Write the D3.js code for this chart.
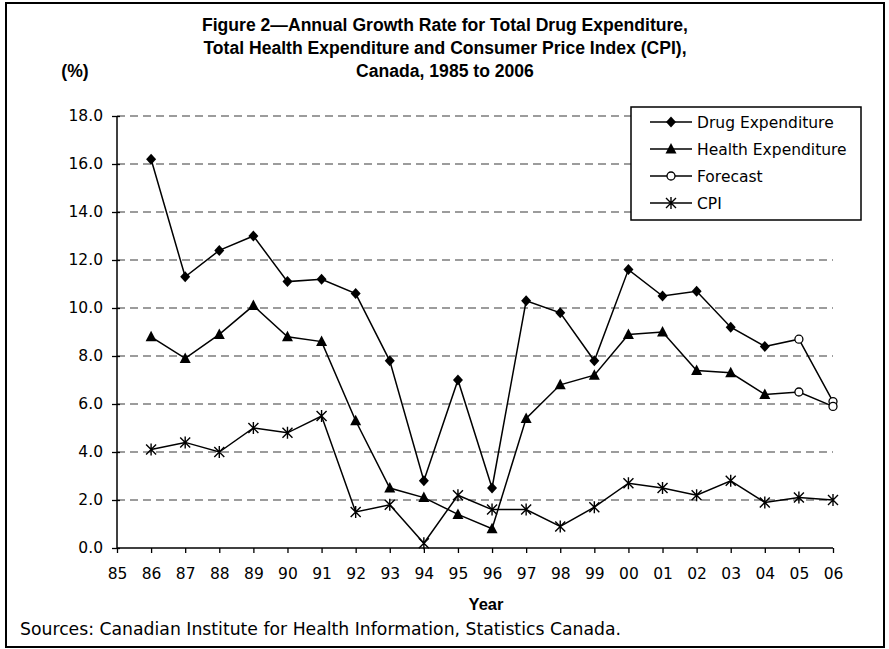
<!DOCTYPE html>
<html>
<head>
<meta charset="utf-8">
<script src="https://cdnjs.cloudflare.com/ajax/libs/d3/7.8.5/d3.min.js"></script>
<style>
  html, body { margin: 0; padding: 0; background: #fff; }
  svg { display: block; }
</style>
</head>
<body>
<svg id="chart" width="889" height="649"></svg>
<script>
// ---------------- data ----------------
const years = ["85","86","87","88","89","90","91","92","93","94","95","96","97","98","99","00","01","02","03","04","05","06"];
const actualYears = ["86","87","88","89","90","91","92","93","94","95","96","97","98","99","00","01","02","03","04"];
const drugValues = [16.2, 11.3, 12.4, 13.0, 11.1, 11.2, 10.6, 7.8, 2.8, 7.0, 2.5, 10.3, 9.8, 7.8, 11.6, 10.5, 10.7, 9.2, 8.4];
const healthValues = [8.8, 7.9, 8.9, 10.1, 8.8, 8.6, 5.3, 2.5, 2.1, 1.4, 0.8, 5.4, 6.8, 7.2, 8.9, 9.0, 7.4, 7.3, 6.4];
const forecastYears = ["04","05","06"];
const forecastDrug = [8.4, 8.7, 6.1];
const forecastHealth = [6.4, 6.5, 5.9];
const cpiYears = ["86","87","88","89","90","91","92","93","94","95","96","97","98","99","00","01","02","03","04","05","06"];
const cpiValues = [4.1, 4.4, 4.0, 5.0, 4.8, 5.5, 1.5, 1.8, 0.2, 2.2, 1.6, 1.6, 0.9, 1.7, 2.7, 2.5, 2.2, 2.8, 1.9, 2.1, 2.0];
const yTicks = [0, 2, 4, 6, 8, 10, 12, 14, 16, 18];
const titleLines = [
  "Figure 2\u2014Annual Growth Rate for Total Drug Expenditure,",
  "Total Health Expenditure and Consumer Price Index (CPI),",
  "Canada, 1985 to 2006"
];
const legendLabels = ["Drug Expenditure", "Health Expenditure", "Forecast", "CPI"];
const yAxisLabel = "(%)";
const xAxisLabel = "Year";
const sourceText = "Sources: Canadian Institute for Health Information, Statistics Canada.";

// ---------------- layout ----------------
const svg = d3.select("#chart");
const FONT = "'DejaVu Sans', Verdana, sans-serif";
const BOLD = "'Liberation Sans', Arial, sans-serif";
const x = d3.scalePoint().domain(years).range([117, 833]);
const y = d3.scaleLinear().domain([0, 18]).range([548, 116]);

// outer border
svg.append("rect").attr("x", 6).attr("y", 3).attr("width", 878).attr("height", 644)
  .attr("fill", "none").attr("stroke", "#000").attr("stroke-width", 2);

// title
const titleG = svg.append("g");
const titleBase = [31, 54, 77];
const tnodes = titleLines.map((t, i) =>
  titleG.append("text").attr("x", 445).attr("y", titleBase[i]).attr("text-anchor", "middle")
    .attr("font-family", BOLD).attr("font-weight", "bold").attr("font-size", 17.5).text(t));
const nat0 = tnodes[0].node().getComputedTextLength();
const scaleF = 486 / nat0;
tnodes.forEach(n => {
  const w = n.node().getComputedTextLength();
  n.attr("textLength", w * scaleF).attr("lengthAdjust", "spacingAndGlyphs");
});

// y label
const yl = svg.append("text").attr("x", 75).attr("y", 77).attr("text-anchor", "middle")
  .attr("font-family", BOLD).attr("font-weight", "bold").attr("font-size", 17.5).text(yAxisLabel);
yl.attr("textLength", yl.node().getComputedTextLength() * scaleF).attr("lengthAdjust", "spacingAndGlyphs");

// gridlines
svg.append("g").selectAll("line").data(yTicks.filter(d => d > 0)).join("line")
  .attr("x1", 117).attr("x2", 833).attr("y1", d => y(d)).attr("y2", d => y(d))
  .attr("stroke", "#3a3a3a").attr("stroke-width", 1.2).attr("stroke-dasharray", "8,5");

// y axis
const yAxis = svg.append("g").attr("transform", "translate(117,0)")
  .call(d3.axisLeft(y).tickValues(yTicks).tickFormat(d => d.toFixed(1)).tickSize(5).tickPadding(9));
yAxis.select(".domain").attr("stroke", "#000").attr("stroke-width", 1.5).attr("d", "M0,116V548");
yAxis.selectAll(".tick line").attr("x1", 3).attr("x2", -5).attr("stroke", "#000").attr("stroke-width", 1.3);
yAxis.selectAll(".tick text").attr("font-family", FONT).attr("font-size", 15.5).attr("fill", "#000");

// x axis
const xAxis = svg.append("g").attr("transform", "translate(0,548)")
  .call(d3.axisBottom(x).tickSize(5).tickPadding(15));
xAxis.select(".domain").attr("stroke", "#000").attr("stroke-width", 1.5).attr("d", "M117,0H833");
xAxis.selectAll(".tick line").attr("stroke", "#000").attr("stroke-width", 1.3);
xAxis.selectAll(".tick text").attr("font-family", FONT).attr("font-size", 15.5).attr("fill", "#000");

// axis title & source
svg.append("text").attr("x", 486).attr("y", 610).attr("text-anchor", "middle")
  .attr("font-family", BOLD).attr("font-weight", "bold").attr("font-size", 16.5).text(xAxisLabel);
const src = svg.append("text").attr("x", 20).attr("y", 635)
  .attr("font-family", FONT).attr("font-size", 17).text(sourceText);
src.attr("textLength", 601).attr("lengthAdjust", "spacingAndGlyphs");

// markers
function diamond(g, cx, cy) {
  g.append("path").attr("d", `M${cx},${cy-5.5}L${cx+5},${cy}L${cx},${cy+5.5}L${cx-5},${cy}Z`).attr("fill", "#000");
}
function triangle(g, cx, cy) {
  g.append("path").attr("d", `M${cx},${cy-6}L${cx+5.5},${cy+4.5}L${cx-5.5},${cy+4.5}Z`).attr("fill", "#000");
}
function circle(g, cx, cy) {
  g.append("circle").attr("cx", cx).attr("cy", cy).attr("r", 4).attr("fill", "#fff").attr("stroke", "#000").attr("stroke-width", 1.3);
}
function star(g, cx, cy) {
  const s = 5;
  g.append("path").attr("d", `M${cx-s},${cy-s}L${cx+s},${cy+s}M${cx-s},${cy+s}L${cx+s},${cy-s}M${cx},${cy-s-1}V${cy+s+1}`)
    .attr("stroke", "#000").attr("stroke-width", 1.4).attr("fill", "none");
}

const line = d3.line().x(d => x(d[0])).y(d => y(d[1]));
const plotG = svg.append("g");
function series(yrs, vals, marker, skipFirstMarker) {
  const pts = yrs.map((yr, i) => [yr, vals[i]]);
  plotG.append("path").attr("d", line(pts)).attr("fill", "none").attr("stroke", "#000").attr("stroke-width", 1.5);
  pts.forEach((p, i) => { if (!(skipFirstMarker && i === 0)) marker(plotG, x(p[0]), y(p[1])); });
}
series(forecastYears, forecastDrug, circle, true);
series(forecastYears, forecastHealth, circle, true);
series(cpiYears, cpiValues, star, false);
series(actualYears, healthValues, triangle, false);
series(actualYears, drugValues, diamond, false);

// legend
const lg = svg.append("g");
lg.append("rect").attr("x", 631).attr("y", 107).attr("width", 230).attr("height", 113)
  .attr("fill", "#fff").attr("stroke", "#000").attr("stroke-width", 1.5);
const legendRowsY = [122, 149, 176, 203];
const legendMarkers = [diamond, triangle, circle, star];
legendLabels.forEach((lab, i) => {
  const ly = legendRowsY[i];
  lg.append("line").attr("x1", 650).attr("x2", 692).attr("y1", ly).attr("y2", ly).attr("stroke", "#000").attr("stroke-width", 1.5);
  legendMarkers[i](lg, 671, ly);
  lg.append("text").attr("x", 697).attr("y", ly + 5.5).attr("font-family", FONT).attr("font-size", 15.5).text(lab);
});
</script>
</body>
</html>
